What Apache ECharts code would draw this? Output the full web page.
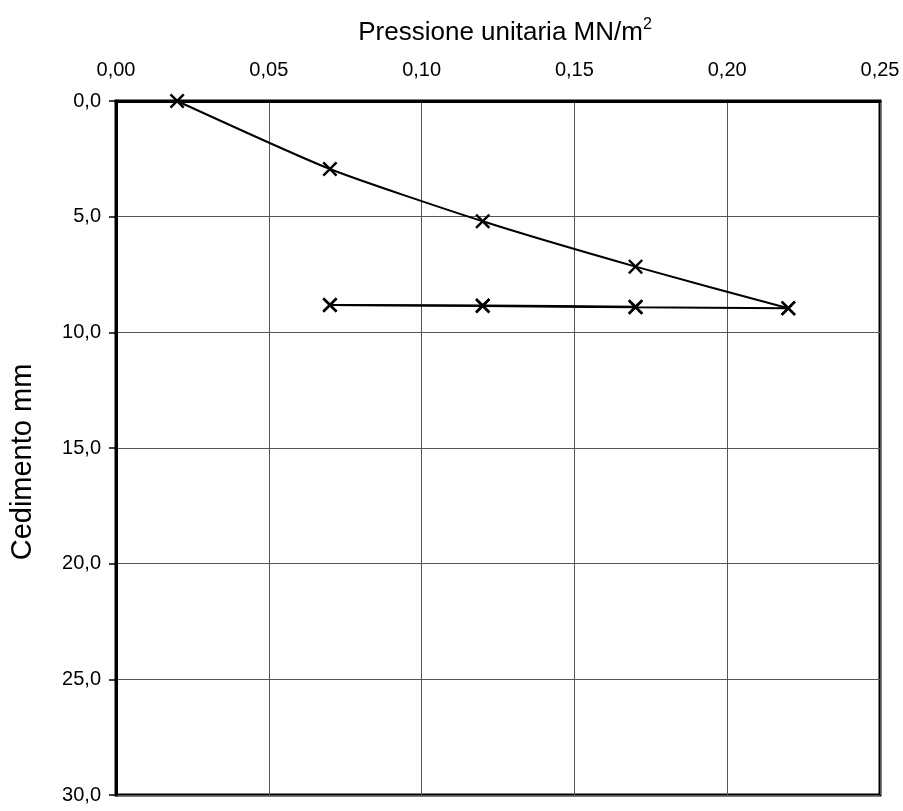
<!DOCTYPE html>
<html>
<head>
<meta charset="utf-8">
<script src="https://cdn.jsdelivr.net/npm/echarts@6/dist/echarts.min.js"></script>
<style>html,body{margin:0;padding:0;background:#fff}#c{width:903px;height:811px}</style>
</head>
<body>
<div id="c"></div>
<script>
// Data
var loadPressure = [0.02, 0.07, 0.12, 0.17, 0.22];
var loadSettlement = [0.0, 2.94, 5.2, 7.16, 8.96];
var unloadPressure = [0.22, 0.17, 0.12, 0.07];
var unloadSettlement = [8.96, 8.92, 8.86, 8.82];
var reloadPressure = [0.07, 0.12, 0.17];
var reloadSettlement = [8.82, 8.84, 8.89];
var xTicks = [0, 0.05, 0.10, 0.15, 0.20, 0.25];
var yTicks = [0, 5, 10, 15, 20, 25, 30];

function pairs(xs, ys) { return xs.map(function (x, i) { return [x, ys[i]]; }); }

var X = 'path://M0,1.6L1.6,0L7,5.4L12.4,0L14,1.6L8.6,7L14,12.4L12.4,14L7,8.6L1.6,14L0,12.4L5.4,7Z';
var font = 'Liberation Sans, Arial, sans-serif';

function lineSeries(data) {
  return {
    type: 'line', data: data, smooth: 0.2,
    symbol: X, symbolSize: 15,
    itemStyle: { color: '#000' },
    lineStyle: { color: '#000', width: 2 },
    z: 5
  };
}

var chart = echarts.init(document.getElementById('c'), null, { renderer: 'canvas' });
chart.setOption({
  animation: false,
  backgroundColor: '#fff',
  grid: { left: 115, right: 23, top: 101, bottom: 16, show: true, borderColor: '#000', borderWidth: 3, backgroundColor: 'transparent' },
  xAxis: {
    type: 'value', position: 'top',
    min: xTicks[0], max: xTicks[xTicks.length - 1], interval: 0.05,
    name: 'Pressione unitaria MN/m{sup|2}', nameLocation: 'middle', nameGap: 53,
    nameTextStyle: { fontFamily: font, fontSize: 26, color: '#000', padding: [0, 0, 0, 14],
      rich: { sup: { fontFamily: font, fontSize: 16, color: '#000', padding: [0, 0, 15, 0] } } },
    axisLine: { show: true, onZero: false, lineStyle: { color: '#000', width: 3 } },
    axisTick: { show: false },
    axisLabel: { fontFamily: font, fontSize: 20, color: '#000', margin: 21,
      formatter: function (v) { return v.toFixed(2).replace('.', ','); } },
    splitLine: { show: true, lineStyle: { color: '#555', width: 1 } }
  },
  yAxis: {
    type: 'value', inverse: true,
    min: yTicks[0], max: yTicks[yTicks.length - 1], interval: 5,
    name: 'Cedimento mm', nameLocation: 'middle', nameGap: 79,
    nameTextStyle: { fontFamily: font, fontSize: 29, color: '#000', padding: [0, 28, 0, 0] },
    axisLine: { show: true, onZero: false, lineStyle: { color: '#000', width: 3 } },
    axisTick: { show: true, inside: false, length: 7, lineStyle: { color: '#000', width: 1.5 } },
    axisLabel: { fontFamily: font, fontSize: 20, color: '#000', margin: 15,
      formatter: function (v) { return v.toFixed(1).replace('.', ','); } },
    splitLine: { show: true, lineStyle: { color: '#555', width: 1 } }
  },
  series: [
    lineSeries(pairs(loadPressure, loadSettlement)),
    lineSeries(pairs(unloadPressure, unloadSettlement)),
    lineSeries(pairs(reloadPressure, reloadSettlement))
  ]
});
</script>
</body>
</html>
